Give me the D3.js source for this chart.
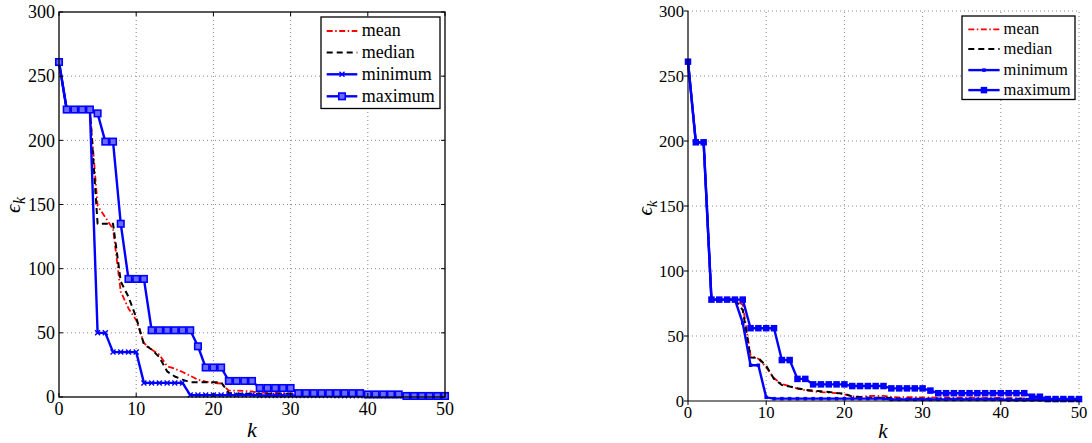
<!DOCTYPE html>
<html>
<head>
<meta charset="utf-8">
<script src="https://cdn.jsdelivr.net/npm/d3@7"></script>
<style>
  body { margin: 0; background: #fff; }
  svg { display: block; }
</style>
</head>
<body>
<svg id="chart" width="1092" height="443"></svg>
<script>
// Iteration index k = 0..50
const kValues = d3.range(0, 51);
const xTicks = [0, 10, 20, 30, 40, 50];
const yTicks = [0, 50, 100, 150, 200, 250, 300];
const seriesNames = ["mean", "median", "minimum", "maximum"];

// Left panel: error e_k per iteration
const leftMean = [261, 224, 224, 224, 224, 149, 140, 131, 82, 69,
  60, 42, 37, 33, 24, 22, 19.5, 16.5, 13.5, 12,
  11, 10.5, 5, 5, 4.7, 4.3, 3.4, 3.2, 3.1, 3,
  2.8, 2.4, 2.3, 2.3, 2.2, 2.2, 2.1, 2.1, 2, 2,
  1.8, 1.6, 1.5, 1.4, 1.3, 1.2, 1.1, 1.1, 1, 1, 1];
const leftMedian = [261, 224, 224, 224, 224, 135, 135, 135, 90, 78,
  62, 41, 37, 31, 20, 16, 13.5, 11.5, 11.5, 11.5,
  11.5, 11.5, 3, 2.6, 2.6, 2.6, 2.6, 2.6, 2.6, 2.6,
  2.6, 2, 2, 2, 2, 2, 2, 2, 2, 2,
  2, 1, 1, 1, 1, 1, 1, 1, 1, 1, 1];
const leftMin = [261, 224, 224, 224, 224, 50, 50, 35, 35, 35,
  35, 11, 11, 11, 11, 11, 11, 1.5, 1.5, 1.5,
  1.5, 1.5, 1.5, 1.5, 1.5, 1.5, 1.2, 1.2, 1.2, 1.2,
  1.2, 1.2, 1.2, 1.2, 1.2, 1.2, 1, 1, 1, 1,
  1, 1, 1, 1, 1, 0.6, 0.6, 0.6, 0.6, 0.6, 0.6];
const leftMax = [261, 224, 224, 224, 224, 221, 199, 199, 135, 92,
  92, 92, 52, 52, 52, 52, 52, 52, 39.5, 23,
  23, 23, 12.5, 12.5, 12.5, 12.5, 7, 7, 7, 7,
  7, 3, 3, 3, 3, 3, 3, 3, 3, 3,
  2, 2, 2, 2, 2, 0.8, 0.8, 0.8, 0.8, 0.8, 0.8];

// Right panel: error e_k per iteration
const rightMean = [261, 199, 199, 78, 78, 78, 78, 74, 35, 32.5,
  26, 17.5, 13, 11.5, 9.5, 8.2, 7.4, 6.8, 6.5, 6,
  5.2, 3.6, 3.2, 3.8, 4, 4, 3.2, 2.8, 3, 2.9,
  2.8, 2.8, 2.6, 2.7, 2.5, 2.6, 2.5, 2.6, 2.4, 2.5,
  2.3, 2.2, 2.1, 2, 1.6, 1.5, 1.4, 1.3, 1.3, 1.2, 1.2];
const rightMedian = [261, 199, 199, 78, 78, 78, 78, 70, 33.5, 33,
  27, 17, 12.3, 11.2, 9.8, 8.6, 8, 7.5, 7, 6.2,
  5.6, 3.5, 3, 2.6, 2.5, 2.6, 2.3, 1.8, 1.8, 1.8,
  1.8, 1.8, 1.8, 1.8, 1.8, 1.8, 1.8, 1.8, 1.8, 1.8,
  1.8, 1.8, 1.8, 1.8, 1.2, 1.2, 1.2, 1.2, 1.2, 1.2, 1.2];
const rightMin = [261, 199, 199, 78, 78, 78, 78, 60, 27.5, 27.5,
  2.8, 1.8, 1.8, 1.8, 1.8, 1.8, 1.8, 1.8, 1.8, 1.8,
  1.8, 1.8, 1.8, 1.8, 1.8, 1.8, 1.2, 1.2, 1.2, 1.2,
  1.2, 1.2, 1.2, 1.2, 1.2, 1.2, 1.2, 1.2, 1.2, 1.2,
  1.2, 0.8, 0.8, 0.8, 0.8, 0.8, 0.8, 0.8, 0.8, 0.8, 0.8];
const rightMax = [261, 199, 199, 78, 78, 78, 78, 78, 56, 56,
  56, 56, 31.5, 31.5, 17, 17, 12.8, 12.8, 12.8, 12.8,
  12.8, 11.5, 11.5, 11.5, 11.5, 11.5, 9.7, 9.7, 9.7, 9.7,
  9.7, 8, 6, 6, 6, 6, 6, 6, 6, 6,
  6, 6, 6, 6, 3.3, 3.3, 1.5, 1.5, 1.5, 1.5, 1.5];

const FONT = "'Liberation Serif', 'Times New Roman', Times, serif";
const svg = d3.select("#chart");

// Line styles per statistic
const styles = {
  mean:    { color: "#ff0000", width: 1.8, dash: "6,2.5,1.5,2.5" },
  median:  { color: "#000000", width: 2.0, dash: "6,4" },
  minimum: { color: "#0000ff", width: 2.4, dash: null },
  maximum: { color: "#0000ff", width: 2.4, dash: null }
};

const panels = [
  {
    left: 59, right: 445, top: 12, bottom: 397,
    box: true, tickDir: 1, tickFont: 18, labelFont: 22,
    xTickBaseline: 415, kLabel: [252, 436.5], epsLabel: [20, 205],
    data: { mean: leftMean, median: leftMedian, minimum: leftMin, maximum: leftMax },
    markers: { minimum: { type: "x", size: 5 }, maximum: { type: "hollow", size: 6.5 } },
    legend: { x: 321, y: 17, w: 119, h: 91.5, rows: [14, 35.6, 57.3, 79.3],
              sx0: 5.7, sx1: 36.3, tx: 40.7, font: 18 }
  },
  {
    left: 688, right: 1079, top: 11, bottom: 401,
    box: false, tickDir: -1, tickFont: 16.7, labelFont: 21,
    xTickBaseline: 418, kLabel: [883, 438], epsLabel: [652, 208],
    data: { mean: rightMean, median: rightMedian, minimum: rightMin, maximum: rightMax },
    markers: { minimum: { type: "dot", size: 3.5 }, maximum: { type: "filled", size: 6.5 } },
    legend: { x: 962, y: 16, w: 113, h: 83.5, rows: [13.4, 33.1, 54.1, 74.1],
              sx0: 6.3, sx1: 37.6, tx: 41.6, font: 16.5 }
  }
];

function label(g, size) {
  return g.append("text").style("font-family", FONT).style("font-size", size + "px").attr("fill", "#000");
}

function drawMarker(g, type, size, color, cx, cy) {
  const h = size / 2;
  if (type === "x") {
    g.append("path")
      .attr("d", `M${cx - h},${cy - h}L${cx + h},${cy + h}M${cx - h},${cy + h}L${cx + h},${cy - h}`)
      .attr("stroke", color).attr("stroke-width", 1.4).attr("fill", "none");
  } else if (type === "hollow") {
    g.append("rect").attr("x", cx - h).attr("y", cy - h).attr("width", size).attr("height", size)
      .attr("fill", "#6a6aff").attr("stroke", color).attr("stroke-width", 1.6);
  } else if (type === "filled" || type === "dot") {
    g.append("rect").attr("x", cx - h).attr("y", cy - h).attr("width", size).attr("height", size)
      .attr("fill", color).attr("stroke", "none");
  }
}

panels.forEach(p => {
  const x = d3.scaleLinear().domain([0, 50]).range([p.left, p.right]);
  const y = d3.scaleLinear().domain([0, 300]).range([p.bottom, p.top]);
  const g = svg.append("g");

  // dotted grid
  const grid = g.append("g").attr("stroke", "#8a8a8a").attr("stroke-width", 1)
    .attr("stroke-dasharray", "1,3");
  xTicks.filter(t => t !== 0).forEach(t => {
    if (p.box && t === 50) return;
    grid.append("line").attr("x1", x(t)).attr("x2", x(t)).attr("y1", p.bottom).attr("y2", p.top);
  });
  yTicks.filter(t => t !== 0).forEach(t => {
    if (p.box && t === 300) return;
    grid.append("line").attr("x1", p.left).attr("x2", p.right).attr("y1", y(t)).attr("y2", y(t));
  });

  // series
  const line = d3.line().x((d, i) => x(kValues[i])).y(d => y(d));
  seriesNames.forEach(name => {
    const s = styles[name];
    g.append("path").datum(p.data[name])
      .attr("d", line)
      .attr("fill", "none")
      .attr("stroke", s.color)
      .attr("stroke-width", s.width)
      .attr("stroke-linejoin", "round")
      .attr("stroke-dasharray", s.dash);
    const m = p.markers[name];
    if (m) {
      const mg = g.append("g");
      p.data[name].forEach((v, i) => drawMarker(mg, m.type, m.size, s.color, x(kValues[i]), y(v)));
    }
  });

  // axes
  const axG = g.append("g").attr("stroke", "#000").attr("fill", "none");
  if (p.box) {
    axG.append("rect").attr("x", p.left).attr("y", p.top)
      .attr("width", p.right - p.left).attr("height", p.bottom - p.top).attr("stroke-width", 1.3);
  } else {
    axG.append("line").attr("x1", p.left).attr("x2", p.left).attr("y1", p.top).attr("y2", p.bottom).attr("stroke-width", 1.2);
    axG.append("line").attr("x1", p.left).attr("x2", p.right).attr("y1", p.bottom).attr("y2", p.bottom).attr("stroke-width", 1.2);
  }
  const tl = 4 * p.tickDir;
  xTicks.forEach(t => {
    axG.append("line").attr("x1", x(t)).attr("x2", x(t)).attr("y1", p.bottom).attr("y2", p.bottom - tl).attr("stroke-width", 1);
    if (p.box) axG.append("line").attr("x1", x(t)).attr("x2", x(t)).attr("y1", p.top).attr("y2", p.top + tl).attr("stroke-width", 1);
  });
  yTicks.forEach(t => {
    axG.append("line").attr("x1", p.left).attr("x2", p.left + tl).attr("y1", y(t)).attr("y2", y(t)).attr("stroke-width", 1);
    if (p.box) axG.append("line").attr("x1", p.right).attr("x2", p.right - tl).attr("y1", y(t)).attr("y2", y(t)).attr("stroke-width", 1);
  });

  // tick labels
  xTicks.forEach(t => {
    label(g, p.tickFont).attr("x", x(t)).attr("y", p.xTickBaseline)
      .attr("text-anchor", "middle").text(t);
  });
  yTicks.forEach(t => {
    label(g, p.tickFont).attr("x", p.left - 4).attr("y", y(t)).attr("dy", "0.35em")
      .attr("text-anchor", "end").text(t);
  });

  // axis labels
  label(g, p.labelFont).attr("x", p.kLabel[0]).attr("y", p.kLabel[1])
    .attr("text-anchor", "middle").style("font-style", "italic").text("k");
  const eps = label(g, p.labelFont)
    .attr("transform", `translate(${p.epsLabel[0]},${p.epsLabel[1]}) rotate(-90)`)
    .attr("text-anchor", "middle").style("font-style", "italic");
  eps.append("tspan").text("ϵ");
  eps.append("tspan").style("font-size", (p.labelFont * 0.72) + "px").attr("dy", p.labelFont * 0.22).text("k");

  // legend
  const L = p.legend;
  const lg = g.append("g").attr("transform", `translate(${L.x},${L.y})`);
  lg.append("rect").attr("width", L.w).attr("height", L.h)
    .attr("fill", "#fff").attr("stroke", "#000").attr("stroke-width", 1.3);
  seriesNames.forEach((name, i) => {
    const s = styles[name];
    const ry = L.rows[i];
    lg.append("line").attr("x1", L.sx0).attr("x2", L.sx1).attr("y1", ry).attr("y2", ry)
      .attr("stroke", s.color).attr("stroke-width", s.width).attr("stroke-dasharray", s.dash);
    const m = p.markers[name];
    if (m) drawMarker(lg, m.type, m.size, s.color, (L.sx0 + L.sx1) / 2, ry);
    label(lg, L.font).attr("x", L.tx).attr("y", ry + L.font * 0.3).text(name);
  });
});
</script>
</body>
</html>
